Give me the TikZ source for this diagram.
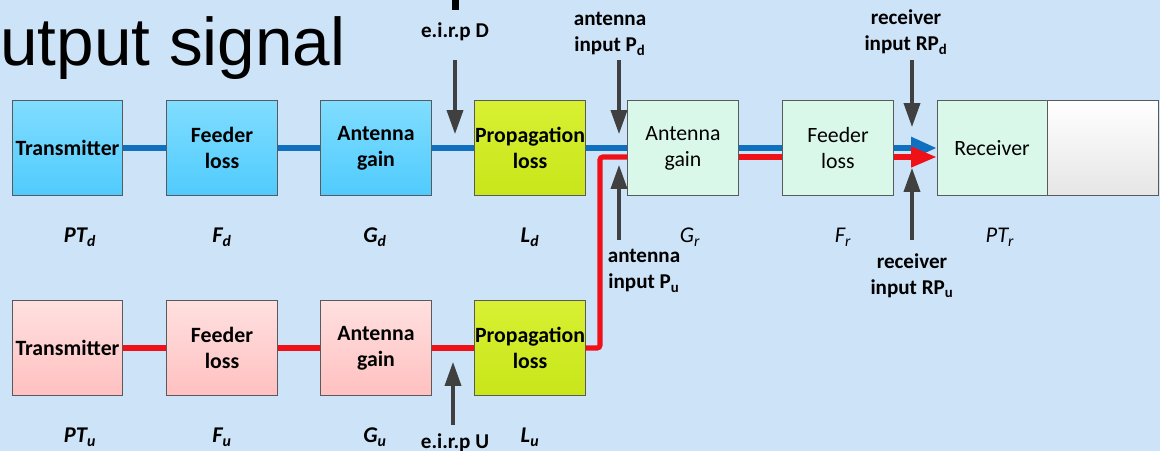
\documentclass[tikz,border=0pt]{standalone}
\usepackage{fontspec}
\setmainfont{Carlito}
\newfontfamily\arialf{Liberation Sans}
\usetikzlibrary{arrows.meta}
\definecolor{bg}{RGB}{205,227,247}
\definecolor{bordergray}{RGB}{90,90,90}
\definecolor{bluetop}{RGB}{128,221,255}
\definecolor{bluebot}{RGB}{80,203,253}
\definecolor{yeltop}{RGB}{216,240,50}
\definecolor{yelbot}{RGB}{200,230,26}
\definecolor{greenfill}{RGB}{218,248,234}
\definecolor{pinktop}{RGB}{255,224,224}
\definecolor{pinkbot}{RGB}{255,192,192}
\definecolor{lineblue}{RGB}{16,112,192}
\definecolor{linered}{RGB}{240,16,24}
\definecolor{arrowgray}{RGB}{64,64,64}
\begin{document}
\begin{tikzpicture}[x=0.025cm,y=-0.025cm,
  box/.style={draw=bordergray, line width=0.7pt, minimum width=2.75cm, minimum height=2.375cm, inner sep=0pt, align=center, font=\fontsize{15.5}{18.5}\selectfont\bfseries},
  bluebox/.style={box, top color=bluetop, bottom color=bluebot},
  yelbox/.style={box, top color=yeltop, bottom color=yelbot},
  pinkbox/.style={box, top color=pinktop, bottom color=pinkbot},
  greenbox/.style={box, fill=greenfill, font=\fontsize{15.5}{18.5}\selectfont},
  whitebox/.style={box, minimum width=2.775cm, top color=white, bottom color=black!10},
  bline/.style={draw=lineblue, line width=3.6pt},
  rline/.style={draw=linered, line width=3.6pt},
  garrow/.style={draw=arrowgray, line width=2.2pt, -{Triangle[length=17pt,width=11.5pt]}},
  ann/.style={align=center, inner sep=0pt, font=\fontsize{15}{18.5}\selectfont\bfseries},
  sub/.style={inner sep=0pt, font=\fontsize{16}{18}\selectfont\bfseries\itshape},
  subr/.style={inner sep=0pt, font=\fontsize{16}{18}\selectfont\itshape}
]
\fill[bg] (0,0) rectangle (1160,451);
\useasboundingbox (0,0) rectangle (1160,451);
% title fragment
\node[anchor=base west, inner sep=0pt, font=\arialf\fontsize{48}{50}\selectfont] (title) at (0,66) {utput signal};
\fill[black] (452,0) rectangle (459,10);
% top row
\node[bluebox] (t1) at (67.5,148) {Transmitter};
\node[bluebox] (f1) at (222,148) {Feeder\\loss};
\node[bluebox] (a1) at (376,148) {Antenna\\gain};
\node[yelbox] (p1) at (530,148) {Propagation\\loss};
\node[greenbox] (a2) at (683,148) {Antenna\\gain};
\node[greenbox] (f2) at (838,148) {Feeder\\loss};
\node[greenbox] (rx) at (992,148) {Receiver};
\node[whitebox] (wb) at (1102.5,148) {};
% bottom row
\node[pinkbox] (t3) at (67.5,348) {Transmitter};
\node[pinkbox] (f3) at (222,348) {Feeder\\loss};
\node[pinkbox] (a3) at (376,348) {Antenna\\gain};
\node[yelbox] (p3) at (530,348) {Propagation\\loss};
% blue path
\draw[bline] (t1) -- (f1);
\draw[bline] (f1) -- (a1);
\draw[bline] (a1) -- (p1);
\draw[bline] (p1) -- (a2);
\draw[bline] (a2) -- (f2);
\draw[bline, -{Triangle[length=18pt,width=15pt]}] (f2) -- (rx);
% red path
\coordinate (ru) at (600,157);
\draw[rline] (t3) -- (f3);
\draw[rline] (f3) -- (a3);
\draw[rline] (a3) -- (p3);
\draw[rline, rounded corners=2pt] (p3.east) -| (ru) -- (ru -| a2.west);
\draw[rline] (a2.east |- ru) -- (f2.west |- ru);
\draw[rline, -{Triangle[length=18pt,width=14pt]}] (f2.east |- ru) -- (rx.west |- ru);
% annotations
\node[ann] (eirpD) at (455,32) {e.i.r.p D};
\node[ann] (antPd) at (610,34) {antenna\\input P\textsubscript{d}};
\node[ann] (recPd) at (906,32) {receiver\\input RP\textsubscript{d}};
\node[ann] (antPu) at (644,271) {antenna\\input P\textsubscript{u}};
\node[ann] (recPu) at (912,276) {receiver\\input RP\textsubscript{u}};
\node[ann] (eirpU) at (455,443) {e.i.r.p U};
\coordinate (eD1) at (455,60); \coordinate (eD2) at (455,134);
\coordinate (pd1) at (619,60); \coordinate (pd2) at (619,134);
\coordinate (rd1) at (912,60); \coordinate (rd2) at (912,127);
\coordinate (pu1) at (619,240); \coordinate (pu2) at (619,165);
\coordinate (ruu1) at (912,240); \coordinate (ruu2) at (912,168);
\coordinate (eU1) at (453,425); \coordinate (eU2) at (453,362);
\draw[garrow] (eD1) -- (eD2);
\draw[garrow] (pd1) -- (pd2);
\draw[garrow] (rd1) -- (rd2);
\draw[garrow] (pu1) -- (pu2);
\draw[garrow] (ruu1) -- (ruu2);
\draw[garrow] (eU1) -- (eU2);
% parameter labels
\node[sub] (lPTd) at (80,237) {PT\textsubscript{d}};
\node[sub] (lFd) at (222,237) {F\textsubscript{d}};
\node[sub] (lGd) at (375,237) {G\textsubscript{d}};
\node[sub] (lLd) at (530,237) {L\textsubscript{d}};
\node[subr] (lGr) at (690,237) {G\textsubscript{r}};
\node[subr] (lFr) at (843,237) {F\textsubscript{r}};
\node[subr] (lPTr) at (1000,237) {PT\textsubscript{r}};
\node[sub] (lPTu) at (80,437) {PT\textsubscript{u}};
\node[sub] (lFu) at (222,437) {F\textsubscript{u}};
\node[sub] (lGu) at (375,437) {G\textsubscript{u}};
\node[sub] (lLu) at (530,437) {L\textsubscript{u}};
\end{tikzpicture}
\end{document}
